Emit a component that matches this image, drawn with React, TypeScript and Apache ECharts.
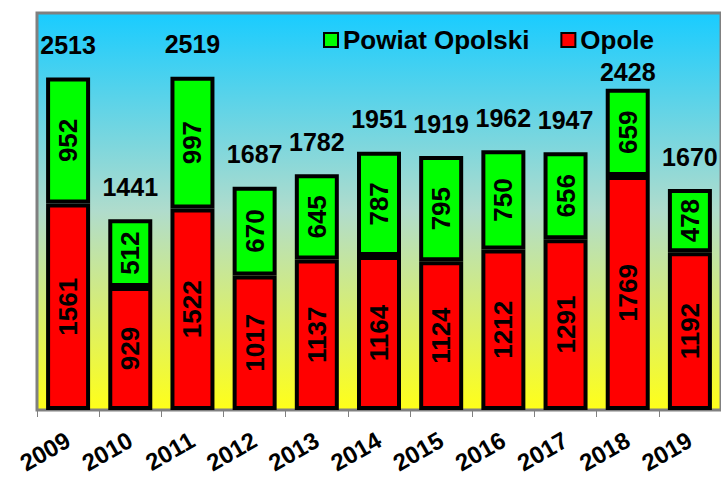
import React, { useEffect, useRef } from "react";
import * as echarts from "echarts";

const years = ["2009", "2010", "2011", "2012", "2013", "2014", "2015", "2016", "2017", "2018", "2019"];
const opole = [1561, 929, 1522, 1017, 1137, 1164, 1124, 1212, 1291, 1769, 1192];
const powiat = [952, 512, 997, 670, 645, 787, 795, 750, 656, 659, 478];
const totals = opole.map((v, i) => v + powiat[i]);

const FONT = "Arial, 'Liberation Sans', sans-serif";

export default function App() {
  const ref = useRef<HTMLDivElement>(null);
  useEffect(() => {
    if (!ref.current) return;
    const chart = echarts.init(ref.current, null, { renderer: "svg" });
    const insideLabel = {
      show: true,
      position: "inside",
      rotate: 90,
      color: "#000",
      fontSize: 26,
      fontWeight: "bold",
      fontFamily: FONT,
    };
    chart.setOption({
      animation: false,
      textStyle: { fontFamily: FONT },
      grid: {
        left: 37,
        top: 13,
        right: -1,
        bottom: 67,
        show: true,
        borderColor: "#808080",
        borderWidth: 3,
        backgroundColor: new echarts.graphic.LinearGradient(0, 0, 0, 1, [
          { offset: 0, color: "#19CCFF" },
          { offset: 0.5, color: "#B0DCCC" },
          { offset: 1, color: "#FFFF19" },
        ]),
      },
      legend: {
        data: ["Powiat Opolski", "Opole"],
        left: 318,
        top: 22,
        itemWidth: 14,
        itemHeight: 14,
        itemGap: 31,
        icon: "rect",
        itemStyle: { borderColor: "#000", borderWidth: 2 },
        textStyle: { fontSize: 26, fontWeight: "bold", color: "#000", fontFamily: FONT },
      },
      xAxis: {
        type: "category",
        data: years,
        axisLine: { show: true, lineStyle: { color: "#808080", width: 2 } },
        axisTick: { show: true, length: 7, lineStyle: { color: "#808080", width: 1 } },
        axisLabel: {
          interval: 0,
          rotate: 30,
          margin: 28,
          fontSize: 24,
          fontWeight: "bold",
          color: "#000",
          fontFamily: FONT,
        },
      },
      yAxis: {
        type: "value",
        min: 0,
        max: 3000,
        show: false,
        splitLine: { show: false },
      },
      series: [
        {
          name: "Opole",
          type: "bar",
          stack: "total",
          data: opole,
          barWidth: 44,
          itemStyle: { color: "#FF0000", borderColor: "#000", borderWidth: 4 },
          label: insideLabel,
        },
        {
          name: "Powiat Opolski",
          type: "bar",
          stack: "total",
          data: powiat,
          barWidth: 44,
          itemStyle: { color: "#00FF00", borderColor: "#000", borderWidth: 4 },
          label: insideLabel,
        },
        {
          name: "Suma",
          type: "scatter",
          data: totals.map((v, i) =>
            i === 9 ? { value: v, label: { distance: 4 } } : v
          ),
          symbolSize: 0,
          silent: true,
          itemStyle: { opacity: 1 },
          label: {
            show: true,
            position: "top",
            distance: 20,
            color: "#000",
            fontSize: 25,
            fontWeight: "bold",
            fontFamily: FONT,
          },
        },
      ],
    });
    return () => chart.dispose();
  }, []);
  return (
    <div
      ref={ref}
      style={{ position: "fixed", left: 0, top: 0, width: 721, height: 477, background: "#fff" }}
    />
  );
}
